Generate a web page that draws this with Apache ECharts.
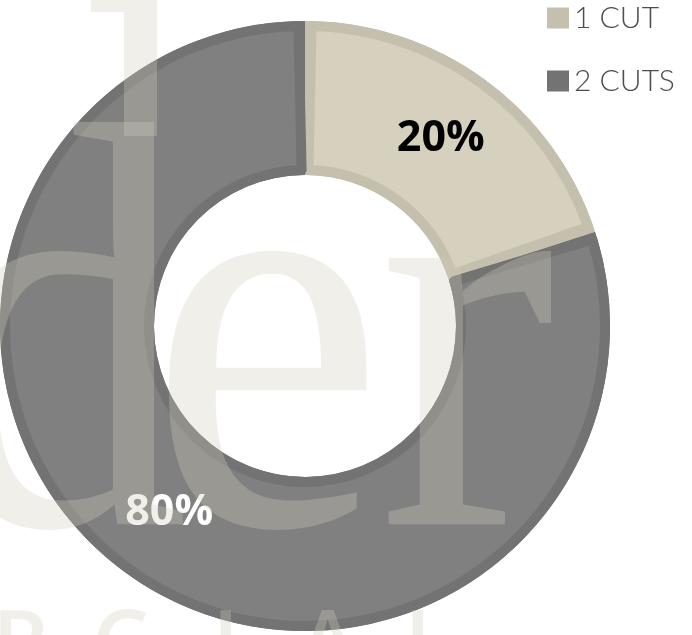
<!DOCTYPE html>
<html>
<head>
<meta charset="utf-8">
<style>
  html, body { margin: 0; padding: 0; background: #ffffff; }
  #chart { width: 692px; height: 635px; }
</style>
<script src="https://cdn.jsdelivr.net/npm/echarts@6/dist/echarts.min.js"></script>
</head>
<body>
<div id="chart"></div>
<script>
// Share of cuts
const categories = ['1 CUT', '2 CUTS'];
const shares = [20, 80];

// Slice fills, edge tones and label colours
const fillColors = ['#d6d0bf', '#808080'];
const edgeColors = ['#c5bfad', '#737373'];
const labelColors = ['#000000', '#ffffff'];

const chart = echarts.init(document.getElementById('chart'), null, { renderer: 'canvas' });

// Faint lettering laid over the ring
const ink = 'rgb(207,204,188)';
const inkOpacity = 0.315;
const serif = '580px "Liberation Serif"';
const sans = '600 90px "Open Sans"';

function mark(text, x, midY, font, sx) {
  return {
    type: 'text', x: x, y: midY, scaleX: sx || 1, z: 100, silent: true,
    style: { text: text, x: 0, y: 0, font: font, fill: ink, opacity: inkOpacity,
             align: 'left', verticalAlign: 'middle' }
  };
}

function bar(x, y, w, h) {
  return { type: 'rect', z: 100, silent: true, shape: { x: x, y: y, width: w, height: h },
           style: { fill: ink, opacity: inkOpacity } };
}

const option = {
  backgroundColor: '#ffffff',
  animation: false,
  legend: {
    orient: 'vertical',
    left: 542,
    top: -2,
    icon: 'rect',
    itemWidth: 22,
    itemHeight: 21,
    itemGap: 33,
    selectedMode: false,
    textStyle: { fontFamily: 'Lato', fontWeight: 300, fontSize: 30, color: '#4d4d4d' },
    data: categories.map((c, i) => ({ name: c, itemStyle: { color: edgeColors[i] } }))
  },
  series: [
    {
      // edge tone underneath
      type: 'pie',
      center: [305, 326],
      radius: [151, 305],
      startAngle: 90,
      clockwise: true,
      silent: true,
      label: { show: false },
      labelLine: { show: false },
      data: categories.map((c, i) => ({ name: c, value: shares[i], itemStyle: { color: edgeColors[i] } }))
    },
    {
      type: 'pie',
      center: [305, 326],
      radius: [156, 300],
      startAngle: 90,
      clockwise: true,
      padAngle: 2.5,
      silent: true,
      label: {
        show: true,
        position: 'inside',
        formatter: '{d}%',
        fontFamily: 'Open Sans',
        fontWeight: 'bold',
        fontSize: 43
      },
      labelLine: { show: false },
      data: categories.map((c, i) => ({
        name: c, value: shares[i],
        itemStyle: { color: fillColors[i], borderColor: edgeColors[i], borderWidth: 10 },
        label: { color: labelColors[i] }
      }))
    }
  ],
  graphic: [
    mark('d', -65, 372, serif, 0.876),
    mark('e', 148, 372, serif, 0.92),
    mark('r', 378, 372, serif, 0.92),
    bar(124, -10, 33, 146),
    bar(91, -10, 33, 22),
    mark('R', -8, 649, sans),
    mark('C', 92, 649, sans),
    mark('I', 212, 649, sans),
    mark('A', 298, 649, sans),
    mark('L', 404, 649, sans)
  ]
};

chart.setOption(option);
</script>
</body>
</html>
